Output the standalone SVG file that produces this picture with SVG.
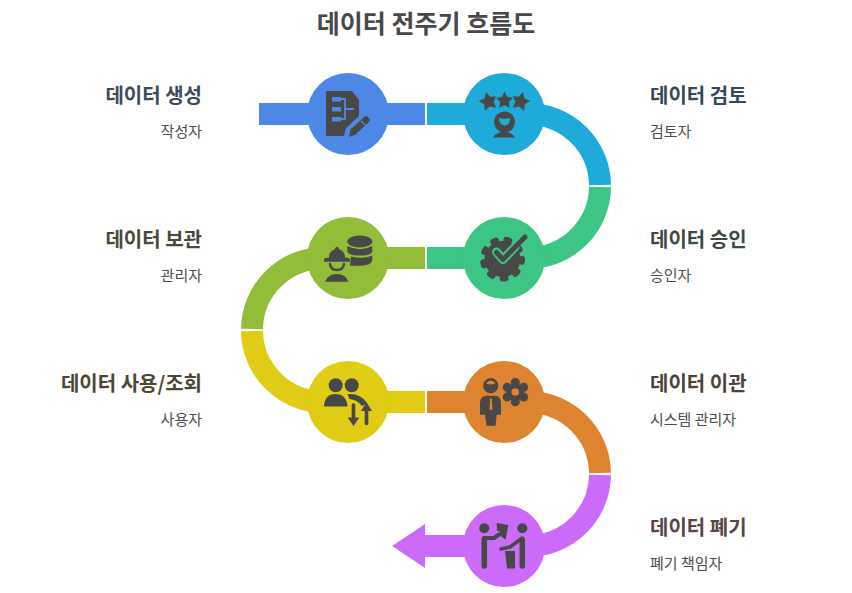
<svg xmlns="http://www.w3.org/2000/svg" width="852" height="593" viewBox="0 0 852 593">
<style>
text{font-family:"Noto Sans CJK KR","Noto Sans",sans-serif}
.t{font-size:20px;font-weight:700}
.s{font-size:15px;fill:#4c4c4c}
.e{text-anchor:end}
.band{fill:none;stroke-width:22}
.i{fill:#484848}
.il{fill:none;stroke:#484848;stroke-linecap:round;stroke-linejoin:round}
</style>
<defs>
<path id="star" d="M0 -9.800L3 -4L9.300 -3L4.900 1.600L5.800 8L0 5.200L-5.800 8L-4.900 1.600L-9.300 -3L-3 -4Z"/>
</defs>
<rect width="852" height="593" fill="#fff"/>
<text x="426" y="33" text-anchor="middle" font-size="25" font-weight="700" fill="#484848">데이터 전주기 흐름도</text>
<g id="connectors">
<path class="band" stroke="#4e88e7" d="M259 114H425"/>
<path class="band" stroke="#1eabda" d="M427 114H528A72 72 0 0 1 600 185"/>
<path class="band" stroke="#3dc585" d="M600 187A72 72 0 0 1 528 258H427"/>
<path class="band" stroke="#93bd39" d="M425 258H324A72 72 0 0 0 252 329"/>
<path class="band" stroke="#e0cb15" d="M252 331A72 72 0 0 0 324 402H425"/>
<path class="band" stroke="#de8431" d="M427 402H528A72 72 0 0 1 600 473"/>
<path class="band" stroke="#cc6bf9" d="M600 475A72 72 0 0 1 528 546H425"/>
<path fill="#cc6bf9" d="M425 524V568L392 546Z"/>
</g>
<g id="node1">
<circle cx="348" cy="114" r="41" fill="#4e88e7"/>
<path class="i" d="M327 91H352L359 100V116L346 128L344 136H327Q326 136 326 135V92Q326 91 327 91Z"/>
<g fill="#4e88e7"><rect x="332" y="97" width="9" height="4.500"/><rect x="332" y="107" width="9" height="4.500"/><rect x="332" y="117" width="9" height="4.500"/></g>
<path fill="none" stroke="#4e88e7" stroke-width="1.800" d="M341 99H345V119H341M345 109H354"/>
<path fill="none" stroke="#4e88e7" stroke-width="11" stroke-linecap="round" d="M353 133L366 120"/>
<path class="il" stroke-width="7" d="M354 131L366 120"/>
<path class="i" d="M349 137L351 128L357 134Z"/>
<path fill="none" stroke="#4e88e7" stroke-width="1.200" d="M361 121L365.500 125.500"/>
<text class="t e" x="202" y="103" fill="#3d4a5e">데이터 생성</text>
<text class="s e" x="202" y="137">작성자</text>
</g>
<g id="node2">
<circle cx="504" cy="114" r="41" fill="#1eabda"/>
<use href="#star" class="i" transform="translate(488.500 101.500) rotate(-15)"/>
<use href="#star" class="i" transform="translate(520.500 101.500) rotate(15)"/>
<use href="#star" class="i" stroke="#1eabda" stroke-width="1" transform="translate(504.500 100.500)"/>
<circle cx="504.500" cy="122" r="10.500" class="i"/>
<path fill="#1eabda" d="M499 118Q504 119.500 510 118Q510.500 125 504.500 125.500Q499 125 499 118Z"/>
<path class="i" d="M493 137.500Q496 132 504 132Q512 132 515 137.500Z"/>
<text class="t" x="650" y="103" fill="#34495a">데이터 검토</text>
<text class="s" x="650" y="137">검토자</text>
</g>
<g id="node3">
<circle cx="504" cy="258" r="41" fill="#3dc585"/>
<circle cx="502.500" cy="259" r="18" class="i"/>
<circle cx="502.500" cy="259" r="19.500" fill="none" stroke="#484848" stroke-width="6" stroke-linecap="round" stroke-dasharray="3 10.610"/>
<path fill="none" stroke="#3dc585" stroke-width="9" stroke-linecap="round" stroke-linejoin="round" d="M496.500 252L503 259.500L515 247"/>
<path class="il" stroke-width="5" d="M496.500 252.500L503 259.500L525 237"/>
<text class="t" x="650" y="247" fill="#3b4a42">데이터 승인</text>
<text class="s" x="650" y="281">승인자</text>
</g>
<g id="node4">
<circle cx="348" cy="258" r="41" fill="#93bd39"/>
<ellipse cx="359.800" cy="241.500" rx="12.500" ry="6" class="i"/>
<path class="i" d="M347.300 246Q360 252.500 372.300 246V251Q372 255.500 360 255.500Q347.500 255.500 347.300 251Z"/>
<path class="i" d="M351 256.500Q364 259.500 372.300 255.500V260Q372 265.700 360 265.700H350Z"/>
<path class="i" d="M324 261.700V259.500Q324 258 329 257.500Q329 251.500 334.500 249.500L336 247H338L339.500 249.500Q345 251.500 345 257.500Q350 258 350 259.500V261.700Z"/>
<path class="il" stroke-width="2.500" d="M330 264Q331 270 337 270Q343 270 344 264"/>
<path class="i" d="M325 281.700Q328 274 337 274Q346 274 348.500 281.700Z"/>
<text class="t e" x="202" y="247" fill="#484838">데이터 보관</text>
<text class="s e" x="202" y="281">관리자</text>
</g>
<g id="node5">
<circle cx="348" cy="402" r="41" fill="#e0cb15"/>
<circle cx="335.700" cy="385.300" r="7" class="i"/>
<circle cx="351.700" cy="385.300" r="7" class="i"/>
<path class="i" d="M324 406.500Q324.500 394 335.500 394Q346.500 394 347.500 406.500Z"/>
<path class="i" d="M347.500 394Q361 393 367.500 403.500L362 406Q357 399.500 349.500 399Z"/>
<path class="il" stroke-width="3.600" d="M353.500 405V420"/>
<path class="i" d="M347.700 417.500H359.300L353.500 426Z"/>
<path class="il" stroke-width="3.600" d="M366.500 408V423.500"/>
<path class="i" d="M361 411L366.500 402.500L372 411Z"/>
<text class="t e" x="202" y="391" fill="#4d4730">데이터 사용/조회</text>
<text class="s e" x="202" y="425">사용자</text>
</g>
<g id="node6">
<circle cx="504" cy="402" r="41" fill="#de8431"/>
<circle cx="490.700" cy="385.700" r="6.300" fill="none" stroke="#484848" stroke-width="2.600"/>
<path class="i" d="M485.500 383Q491 386 496 383Q497 391 490.700 391Q484.500 391 485.500 383Z"/>
<path class="i" d="M480 414.700V403Q480 396 487 395.700H495Q501 396 501 403V414.700H496.700L495.500 425.700H486.500L485 414.700Z"/>
<path fill="#de8431" d="M490 398.500H491.800L492.500 409.700H489.500Z"/>
<g class="i"><circle cx="515.300" cy="392" r="9"/><circle cx="515.300" cy="382.500" r="4.500"/><circle cx="515.300" cy="401.800" r="4.500"/><circle cx="507.200" cy="387.200" r="4.500"/><circle cx="523.600" cy="387.200" r="4.500"/><circle cx="507.200" cy="397" r="4.500"/><circle cx="523.600" cy="397" r="4.500"/></g>
<circle cx="515.300" cy="392" r="3.800" fill="#de8431"/>
<text class="t" x="650" y="391" fill="#4d4238">데이터 이관</text>
<text class="s" x="650" y="425">시스템 관리자</text>
</g>
<g id="node7">
<circle cx="504" cy="546" r="41" fill="#cc6bf9"/>
<circle cx="484.300" cy="528.300" r="5" class="i"/>
<circle cx="522.300" cy="528.300" r="5" class="i"/>
<path class="il" stroke-width="5.500" d="M484.300 566V539"/>
<path class="il" stroke-width="4" d="M484.300 538H494L503 532"/>
<path class="i" d="M496.700 523L508.300 525L505.700 539.500L501 536.500L502 531L497 531Z"/>
<path class="il" stroke-width="5.500" d="M522.300 566V540"/>
<path class="il" stroke-width="3.500" d="M522.300 538L510 547L501 549"/>
<path class="i" d="M505 551H515V568.500H507Z"/>
<text class="t" x="650" y="535" fill="#5a4444">데이터 폐기</text>
<text class="s" x="650" y="569">폐기 책임자</text>
</g>
</svg>
